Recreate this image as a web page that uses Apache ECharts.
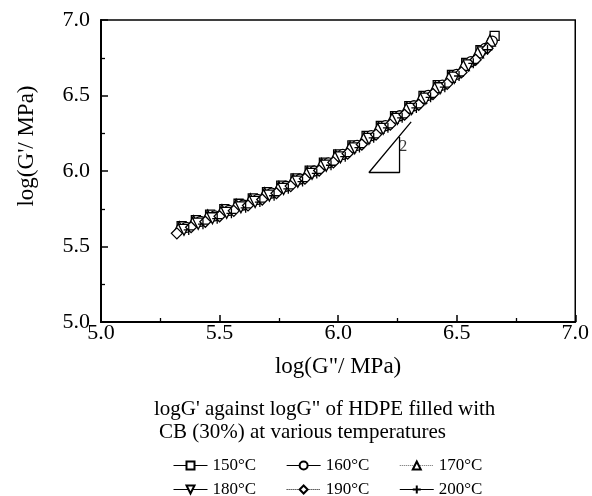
<!DOCTYPE html>
<html><head><meta charset="utf-8">
<script src="https://cdn.jsdelivr.net/npm/echarts@6/dist/echarts.min.js"></script>
<style>html,body{margin:0;padding:0;background:#fff}#c{width:592px;height:496px}</style>
</head><body><div id="c"></div>
<script>
// ---- data ----
const seriesNames = ['150°C', '160°C', '170°C', '180°C', '190°C', '200°C'];
const xTicks = [5.0, 5.5, 6.0, 6.5, 7.0];
const yTicks = [5.0, 5.5, 6.0, 6.5, 7.0];

const s150 = [[5.34,5.634],[5.40,5.675],[5.46,5.711],[5.52,5.747],[5.58,5.783],[5.64,5.819],[5.70,5.860],[5.76,5.903],[5.82,5.951],[5.88,6.002],[5.94,6.056],[6.00,6.110],[6.06,6.170],[6.12,6.232],[6.18,6.298],[6.24,6.364],[6.30,6.430],[6.36,6.497],[6.42,6.569],[6.48,6.636],[6.54,6.716],[6.60,6.800],[6.66,6.895]];
const s160 = [[5.36,5.627],[5.42,5.667],[5.48,5.703],[5.54,5.739],[5.60,5.775],[5.66,5.812],[5.72,5.854],[5.78,5.899],[5.84,5.947],[5.90,6.000],[5.96,6.054],[6.02,6.110],[6.08,6.170],[6.14,6.234],[6.20,6.300],[6.26,6.366],[6.32,6.432],[6.38,6.501],[6.44,6.569],[6.50,6.640],[6.56,6.724],[6.62,6.812],[6.65,6.860]];
const s170 = [[5.33,5.628],[5.39,5.668],[5.45,5.705],[5.51,5.741],[5.57,5.777],[5.63,5.813],[5.69,5.853],[5.75,5.895],[5.81,5.943],[5.87,5.993],[5.93,6.047],[5.99,6.101],[6.05,6.160],[6.11,6.221],[6.17,6.287],[6.23,6.353],[6.29,6.419],[6.35,6.485],[6.41,6.556],[6.47,6.624],[6.53,6.702],[6.59,6.786],[6.64,6.864]];
const s180 = [[5.35,5.610],[5.41,5.651],[5.47,5.687],[5.53,5.723],[5.59,5.759],[5.65,5.795],[5.71,5.837],[5.77,5.881],[5.83,5.929],[5.89,5.981],[5.95,6.035],[6.01,6.090],[6.07,6.150],[6.13,6.213],[6.19,6.279],[6.25,6.345],[6.31,6.411],[6.37,6.479],[6.43,6.548],[6.49,6.618],[6.55,6.700],[6.61,6.786]];
const s190 = [[5.32,5.587],[5.38,5.628],[5.44,5.664],[5.50,5.700],[5.56,5.736],[5.62,5.772],[5.68,5.811],[5.74,5.853],[5.80,5.900],[5.86,5.949],[5.92,6.003],[5.98,6.057],[6.04,6.115],[6.10,6.175],[6.16,6.241],[6.22,6.307],[6.28,6.373],[6.34,6.439],[6.40,6.510],[6.46,6.577],[6.52,6.653],[6.58,6.737],[6.63,6.813]];
const s200 = [[5.37,5.610],[5.43,5.648],[5.49,5.684],[5.55,5.720],[5.61,5.756],[5.67,5.794],[5.73,5.836],[5.79,5.882],[5.85,5.930],[5.91,5.984],[5.97,6.038],[6.03,6.095],[6.09,6.155],[6.15,6.220],[6.21,6.286],[6.27,6.352],[6.33,6.418],[6.39,6.488],[6.45,6.555],[6.51,6.629],[6.57,6.713],[6.63,6.803]];

const slopeTriangle = [[6.13,5.99],[6.308,6.325],[6.13,5.99],[6.259,5.99],[6.259,6.225]];
const slopeLabel = [[6.275,6.16]];
const slopeText = '2';

const captionLines = ['logG\' against logG" of HDPE filled with', 'CB (30%) at various temperatures'];
const xName = 'log(G"/ MPa)';
const yName = "log(G'/ MPa)";

// ---- chart ----
const SERIF = '"Liberation Serif","DejaVu Serif",serif';
const symbols = ['rect', 'circle', 'triangle', 'path://M0,0 L10,0 L5,9 Z', 'diamond', 'path://M0,5 L10,5 M5,0 L5,10'];
const sizes = [9, 10, 11, 11, 11, 10];
const allData = [s150, s160, s170, s180, s190, s200];

const series = allData.map((d, i) => ({
  name: seriesNames[i],
  type: 'line',
  data: d,
  symbol: symbols[i],
  symbolSize: sizes[i],
  showAllSymbol: true,
  lineStyle: { opacity: 0, color: '#000' },
  itemStyle: { color: '#fff', borderColor: '#000', borderWidth: 1.3 },
  emphasis: { disabled: true },
  animation: false
}));
series.push({
  type: 'line', data: slopeTriangle, symbol: 'none', silent: true,
  lineStyle: { color: '#000', width: 1.3 }, animation: false
});
series.push({
  type: 'scatter', data: slopeLabel, symbolSize: 0, silent: true, animation: false,
  label: { show: true, formatter: slopeText, position: 'inside', fontFamily: SERIF, fontSize: 16, color: '#000' }
});

const legendCommon = {
  left: 173, itemWidth: 34, itemHeight: 10, itemGap: 30, padding: 0,
  textStyle: { fontFamily: SERIF, fontSize: 17, color: '#000' },
  lineStyle: { color: '#000', width: 1, opacity: 1 },
  selectedMode: false
};

const option = {
  backgroundColor: '#fff',
  animation: false,
  grid: { left: 101, right: 15, top: 20, bottom: 174, show: true, borderColor: '#000', borderWidth: 1.5, backgroundColor: 'transparent' },
  xAxis: {
    type: 'value', min: xTicks[0], max: xTicks[xTicks.length - 1], interval: 0.5,
    name: xName, nameLocation: 'middle', nameGap: 33,
    nameTextStyle: { fontFamily: SERIF, fontSize: 23, color: '#000' },
    axisLine: { lineStyle: { color: '#000', width: 2 } },
    axisTick: { inside: true, length: 7, lineStyle: { width: 1.5 } },
    minorTick: { show: true, splitNumber: 2, length: 4, lineStyle: { color: '#000', width: 1.3 } },
    splitLine: { show: false },
    axisLabel: { fontFamily: SERIF, fontSize: 22, color: '#000', margin: 0, formatter: v => v.toFixed(1) }
  },
  yAxis: {
    type: 'value', min: yTicks[0], max: yTicks[yTicks.length - 1], interval: 0.5,
    axisLine: { show: true, lineStyle: { color: '#000', width: 2 } },
    axisTick: { show: true, inside: true, length: 7, lineStyle: { width: 1.5 } },
    minorTick: { show: true, splitNumber: 2, length: 4, lineStyle: { color: '#000', width: 1.3 } },
    splitLine: { show: false },
    axisLabel: { fontFamily: SERIF, fontSize: 22, color: '#000', margin: 11, formatter: v => v.toFixed(1) }
  },
  legend: [
    Object.assign({ top: 457, data: [
      { name: seriesNames[0] }, { name: seriesNames[1] },
      { name: seriesNames[2], lineStyle: { type: 'dotted', color: '#666' } }] }, legendCommon),
    Object.assign({ top: 481, data: [
      { name: seriesNames[3] },
      { name: seriesNames[4], lineStyle: { type: 'dotted', color: '#000' } },
      { name: seriesNames[5] }] }, legendCommon)
  ],
  graphic: [
    { type: 'text', x: 27, y: 146, rotation: Math.PI / 2, style: { text: yName, font: '23px ' + SERIF, fill: '#000', textAlign: 'center', textVerticalAlign: 'middle' } },
    { type: 'text', x: 154, y: 409, style: { text: captionLines[0], font: '21px ' + SERIF, fill: '#000', textAlign: 'left', textVerticalAlign: 'middle' } },
    { type: 'text', x: 159, y: 432, style: { text: captionLines[1], font: '21px ' + SERIF, fill: '#000', textAlign: 'left', textVerticalAlign: 'middle' } }
  ],
  series: series
};

const chart = echarts.init(document.getElementById('c'), null, { renderer: 'canvas' });
chart.setOption(option);
</script>
</body></html>
